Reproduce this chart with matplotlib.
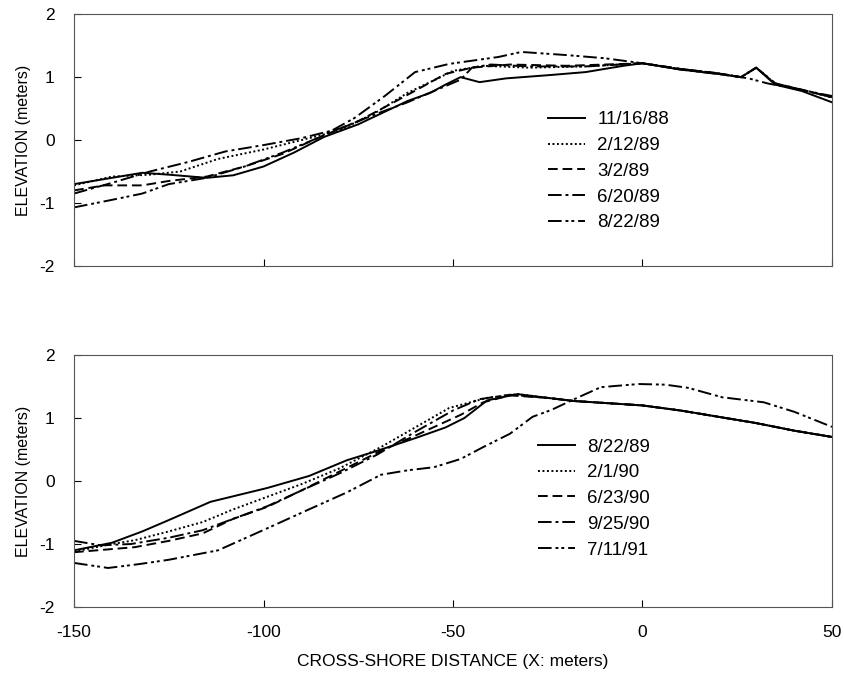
import matplotlib
matplotlib.use('Agg')
import matplotlib.pyplot as plt

plt.rcParams['font.family'] = ['Liberation Sans', 'DejaVu Sans']
plt.rcParams['axes.unicode_minus'] = False

# top panel profiles (x: cross-shore distance, m ; z: elevation, m)
x_881116 = [-150, -140, -132, -125, -115, -108, -100, -92, -84, -75, -68, -62, -56, -52, -48,
            -43, -36, -25, -15, -5, 0, 10, 20, 26, 30, 35, 42, 50]
z_881116 = [-0.70, -0.60, -0.52, -0.55, -0.60, -0.56, -0.42, -0.20, 0.05, 0.25, 0.45, 0.62, 0.75,
            0.88, 1.00, 0.92, 0.98, 1.03, 1.08, 1.18, 1.22, 1.12, 1.05, 1.00, 1.15, 0.88, 0.78, 0.60]

x_890212 = [-150, -140, -130, -122, -112, -100, -90, -80, -70, -62, -55, -50, -42, -30, -15,
            0, 10, 20, 26, 30, 35, 42, 50]
z_890212 = [-0.72, -0.58, -0.55, -0.50, -0.30, -0.15, 0.00, 0.15, 0.45, 0.75, 0.95, 1.10, 1.18,
            1.15, 1.17, 1.22, 1.13, 1.06, 1.00, 1.15, 0.90, 0.80, 0.68]

x_890302 = [-150, -142, -132, -125, -115, -105, -95, -85, -75, -65, -58, -52, -45, -35, -20,
            0, 10, 20, 26, 30, 35, 42, 50]
z_890302 = [-0.80, -0.72, -0.72, -0.65, -0.58, -0.42, -0.22, 0.05, 0.30, 0.62, 0.85, 1.05, 1.15,
            1.20, 1.18, 1.22, 1.13, 1.06, 1.00, 1.15, 0.90, 0.80, 0.68]

x_890620 = [-150, -140, -130, -120, -110, -100, -90, -80, -70, -62, -55, -48, -45, -40, -30,
            -15, 0, 10, 20, 26, 30, 35, 42, 50]
z_890620 = [-0.85, -0.68, -0.50, -0.35, -0.18, -0.08, 0.03, 0.18, 0.42, 0.60, 0.78, 0.96, 1.15,
            1.20, 1.17, 1.17, 1.22, 1.13, 1.06, 1.00, 1.15, 0.90, 0.80, 0.68]

x_890822a = [-150, -140, -132, -125, -115, -105, -95, -85, -76, -68, -60, -51, -38, -32, -20,
             -10, 0, 10, 20, 28, 33, 40, 50]
z_890822a = [-1.07, -0.95, -0.85, -0.70, -0.60, -0.42, -0.20, 0.05, 0.35, 0.70, 1.08, 1.21, 1.32,
             1.40, 1.35, 1.30, 1.22, 1.12, 1.05, 0.98, 0.90, 0.82, 0.70]

# bottom panel profiles
x_890822b = [-150, -140, -132, -125, -114, -99, -88, -78, -70, -60, -52, -47, -41, -33, -25,
             -18, -5, 0, 10, 17, 30, 40, 50]
z_890822b = [-1.10, -0.98, -0.80, -0.62, -0.33, -0.11, 0.08, 0.33, 0.48, 0.68, 0.85, 1.00, 1.28,
             1.38, 1.32, 1.27, 1.22, 1.20, 1.12, 1.05, 0.92, 0.80, 0.70]

x_900201 = [-150, -140, -134, -125, -116, -108, -99, -90, -80, -69, -60, -51, -41, -33, -25,
            -18, -5, 0, 10, 17, 30, 40, 50]
z_900201 = [-1.12, -1.00, -0.94, -0.80, -0.65, -0.45, -0.25, -0.05, 0.20, 0.54, 0.85, 1.16, 1.32,
            1.38, 1.32, 1.27, 1.22, 1.20, 1.12, 1.05, 0.92, 0.80, 0.70]

x_900623 = [-150, -140, -134, -125, -116, -108, -99, -90, -80, -70, -60, -48, -42, -35, -25,
            -18, -5, 0, 10, 17, 30, 40, 50]
z_900623 = [-1.13, -1.08, -1.05, -0.95, -0.83, -0.60, -0.41, -0.15, 0.15, 0.45, 0.72, 1.05, 1.25,
            1.36, 1.32, 1.27, 1.22, 1.20, 1.12, 1.05, 0.92, 0.80, 0.70]

x_900925 = [-150, -143, -135, -125, -116, -108, -99, -90, -80, -70, -60, -50, -43, -35, -25,
            -18, -5, 0, 10, 17, 30, 40, 50]
z_900925 = [-0.95, -1.02, -1.00, -0.90, -0.78, -0.60, -0.40, -0.15, 0.12, 0.42, 0.78, 1.12, 1.30,
            1.37, 1.32, 1.27, 1.22, 1.20, 1.12, 1.05, 0.92, 0.80, 0.70]

x_910711 = [-150, -141, -133, -125, -112, -99, -88, -78, -69, -62, -55, -48, -42, -35, -29,
            -24, -18, -11, -1, 6, 12, 21, 32, 40, 50]
z_910711 = [-1.30, -1.38, -1.32, -1.25, -1.10, -0.75, -0.45, -0.18, 0.10, 0.17, 0.22, 0.35, 0.54,
            0.75, 1.02, 1.13, 1.30, 1.49, 1.54, 1.53, 1.48, 1.33, 1.25, 1.10, 0.86]

yticks = [-2, -1, 0, 1, 2]
xticks = [-150, -100, -50, 0, 50]

styles = ['-', (0, (1, 1.3)), (0, (5, 2.5)), (0, (7, 2, 1.5, 2)), (0, (7, 2, 1.5, 1.5, 1.5, 2))]

top = [(x_881116, z_881116, '11/16/88'), (x_890212, z_890212, '2/12/89'),
       (x_890302, z_890302, '3/2/89'), (x_890620, z_890620, '6/20/89'),
       (x_890822a, z_890822a, '8/22/89')]
bottom = [(x_890822b, z_890822b, '8/22/89'), (x_900201, z_900201, '2/1/90'),
          (x_900623, z_900623, '6/23/90'), (x_900925, z_900925, '9/25/90'),
          (x_910711, z_910711, '7/11/91')]

fig = plt.figure(figsize=(8.45, 6.75), dpi=100)
ax1 = fig.add_axes([0.0876, 0.606, 0.897, 0.373])
ax2 = fig.add_axes([0.0876, 0.1007, 0.897, 0.3733])

for ax, profiles, anchor in [(ax1, top, (0.615, 0.644)), (ax2, bottom, (0.602, 0.699))]:
    for (x, z, lab), ls in zip(profiles, styles):
        ax.plot(x, z, color='black', lw=1.4, linestyle=ls, label=lab)
    ax.set_xlim(-150, 50)
    ax.set_ylim(-2, 2)
    ax.set_xticks(xticks)
    ax.set_yticks(yticks)
    ax.tick_params(direction='in', labelsize=12.5, length=5, width=0.8)
    ax.tick_params(axis='y', pad=14)
    ax.tick_params(axis='x', pad=13)
    for s in ax.spines.values():
        s.set_color('#555555')
        s.set_linewidth(0.8)
    ax.set_ylabel('ELEVATION (meters)', fontsize=11.5, labelpad=6)
    ax.legend(loc='upper left', bbox_to_anchor=anchor, frameon=False, fontsize=13.5,
              handlelength=2.0, handletextpad=0.64, labelspacing=0.46,
              borderaxespad=0)

ax1.tick_params(labelbottom=False)
ax2.set_xlabel('CROSS-SHORE DISTANCE (X: meters)', fontsize=12.5, labelpad=10)

fig.savefig('out.png', dpi=100)
